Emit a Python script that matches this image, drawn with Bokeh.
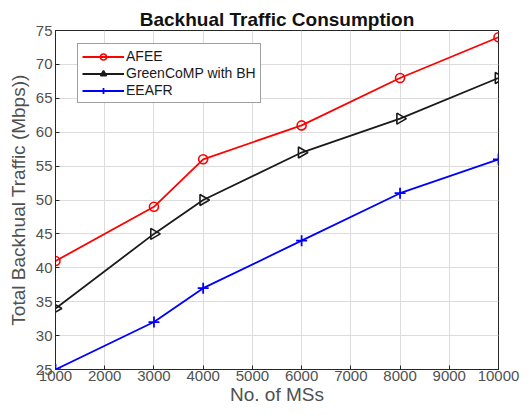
import math
from bokeh.plotting import figure
from bokeh.models import Legend, LegendItem, FixedTicker, Range1d
from bokeh.embed import file_html
from bokeh.resources import INLINE

# Number of mobile stations and backhaul traffic per scheme (Mbps)
ms_counts = [1000, 3000, 4000, 6000, 8000, 10000]
afee = [41, 49, 56, 61, 68, 74]
greencomp_bh = [34, 45, 50, 57, 62, 68]
eeafr = [25, 32, 37, 44, 51, 56]

x_ticks = [1000, 2000, 3000, 4000, 5000, 6000, 7000, 8000, 9000, 10000]
y_ticks = [25, 30, 35, 40, 45, 50, 55, 60, 65, 70, 75]

FONT = "Liberation Sans"

p = figure(
    width=528, height=415,
    frame_width=443, frame_height=339,
    x_range=Range1d(1000, 10000), y_range=Range1d(25, 75),
    output_backend="svg", toolbar_location=None,
    min_border_left=55, min_border_right=30, min_border_top=30, min_border_bottom=0,
    title="Backhual Traffic Consumption",
)

p.title.align = "center"
p.title.text_font = FONT
p.title.text_font_size = "19px"
p.title.text_font_style = "bold"
p.title.text_color = "#111111"
p.title.standoff = 2

p.outline_line_color = "#262626"
p.outline_line_width = 1
p.outline_line_alpha = 1

for ax in (p.xaxis[0], p.yaxis[0]):
    ax.axis_line_color = "#262626"
    ax.major_tick_in = 4
    ax.major_tick_out = 0
    ax.minor_tick_line_color = None
    ax.major_tick_line_color = "#262626"
    ax.major_label_text_font = FONT
    ax.major_label_text_font_size = "15px"
    ax.major_label_text_color = "#505050"
    ax.axis_label_text_font = FONT
    ax.axis_label_text_font_size = "19px"
    ax.axis_label_text_font_style = "normal"
    ax.axis_label_text_color = "#505050"

p.xaxis.ticker = FixedTicker(ticks=x_ticks)
p.yaxis.ticker = FixedTicker(ticks=y_ticks)
p.xaxis.axis_label = "No. of MSs"
p.yaxis.axis_label = "Total Backhual Traffic (Mbps))"
p.xaxis.major_label_standoff = 1
p.yaxis.major_label_standoff = 3
p.xaxis.axis_label_standoff = 0
p.yaxis.axis_label_standoff = 4

p.grid.grid_line_color = "#dcdcdc"
p.grid.grid_line_width = 1

# Series
r_afee_l = p.line(ms_counts, afee, line_color="#ff0000", line_width=1.8)
r_afee_m = p.scatter(ms_counts, afee, marker="circle", size=9, fill_color=None,
                     line_color="#ff0000", line_width=1.6)

r_gc_l = p.line(ms_counts, greencomp_bh, line_color="#1a1a1a", line_width=1.8)
r_gc_m = p.scatter(ms_counts, greencomp_bh, marker="triangle", size=11, angle=-math.pi / 2,
                   fill_color=None, line_color="#1a1a1a", line_width=1.6)

r_ee_l = p.line(ms_counts, eeafr, line_color="#0000ff", line_width=1.8)
r_ee_m = p.scatter(ms_counts, eeafr, marker="cross", size=11,
                   line_color="#0000ff", line_width=1.8)

legend = Legend(
    items=[
        LegendItem(label="AFEE", renderers=[r_afee_l, r_afee_m]),
        LegendItem(label="GreenCoMP with BH", renderers=[r_gc_l, r_gc_m]),
        LegendItem(label="EEAFR", renderers=[r_ee_l, r_ee_m]),
    ],
    location=(22, 266),
    label_text_font=FONT,
    label_text_font_size="14px",
    label_text_color="#1a1a1a",
    label_standoff=2,
    label_height=15,
    glyph_width=42,
    glyph_height=15,
    spacing=1,
    padding=4,
    margin=0,
    border_line_color="#404040",
    border_line_width=1,
    background_fill_alpha=1,
)
p.add_layout(legend, "center")

open("out.html", "w").write(file_html(p, INLINE))
